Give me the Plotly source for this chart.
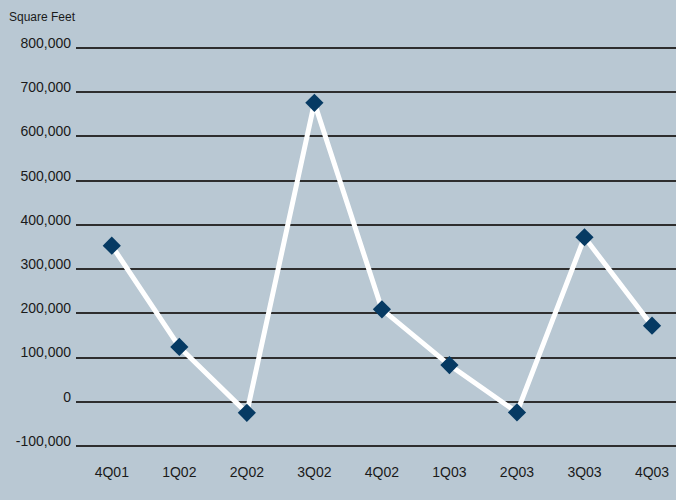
import plotly.graph_objects as go

quarters = ["4Q01", "1Q02", "2Q02", "3Q02", "4Q02", "1Q03", "2Q03", "3Q03", "4Q03"]
square_feet = [353000, 124000, -25000, 676000, 209000, 83000, -24000, 372000, 172000]
y_ticks = [-100000, 0, 100000, 200000, 300000, 400000, 500000, 600000, 700000, 800000]
y_tick_labels = ["-100,000", "0", "100,000", "200,000", "300,000", "400,000",
                 "500,000", "600,000", "700,000", "800,000"]

BG = "#b9c8d3"
FONT = "Liberation Sans, Arial, sans-serif"

fig = go.Figure()
fig.add_trace(go.Scatter(
    x=list(range(len(quarters))), y=square_feet,
    mode="lines+markers",
    line=dict(color="white", width=5),
    marker=dict(symbol="diamond", size=14, color="#063a63"),
    cliponaxis=False,
    showlegend=False,
))

fig.update_layout(
    width=676, height=500,
    paper_bgcolor=BG, plot_bgcolor=BG,
    margin=dict(l=76, r=0, t=30, b=45),
    font=dict(family=FONT, size=14, color="#1a1a1a"),
    xaxis=dict(
        range=[-0.53, 8.355],
        tickvals=list(range(len(quarters))), ticktext=quarters,
        showgrid=False, zeroline=False, showline=False,
        ticks="outside", ticklen=4, tickcolor=BG,
        tickfont=dict(size=14),
        fixedrange=True,
    ),
    yaxis=dict(
        range=[-120339, 840678],
        tickvals=y_ticks, ticktext=y_tick_labels,
        showgrid=True, gridcolor="#2e2e2e", gridwidth=2,
        zeroline=False, showline=False,
        ticks="", ticklabelstandoff=4, ticklabelshift=-5,
        tickfont=dict(size=14),
        fixedrange=True,
    ),
    annotations=[dict(
        text="Square Feet", xref="paper", yref="paper", x=0, y=1,
        xanchor="left", yanchor="bottom", xshift=-69, yshift=4,
        showarrow=False, font=dict(family=FONT, size=12, color="#1a1a1a"),
    )],
)

fig.write_html("out.html")
